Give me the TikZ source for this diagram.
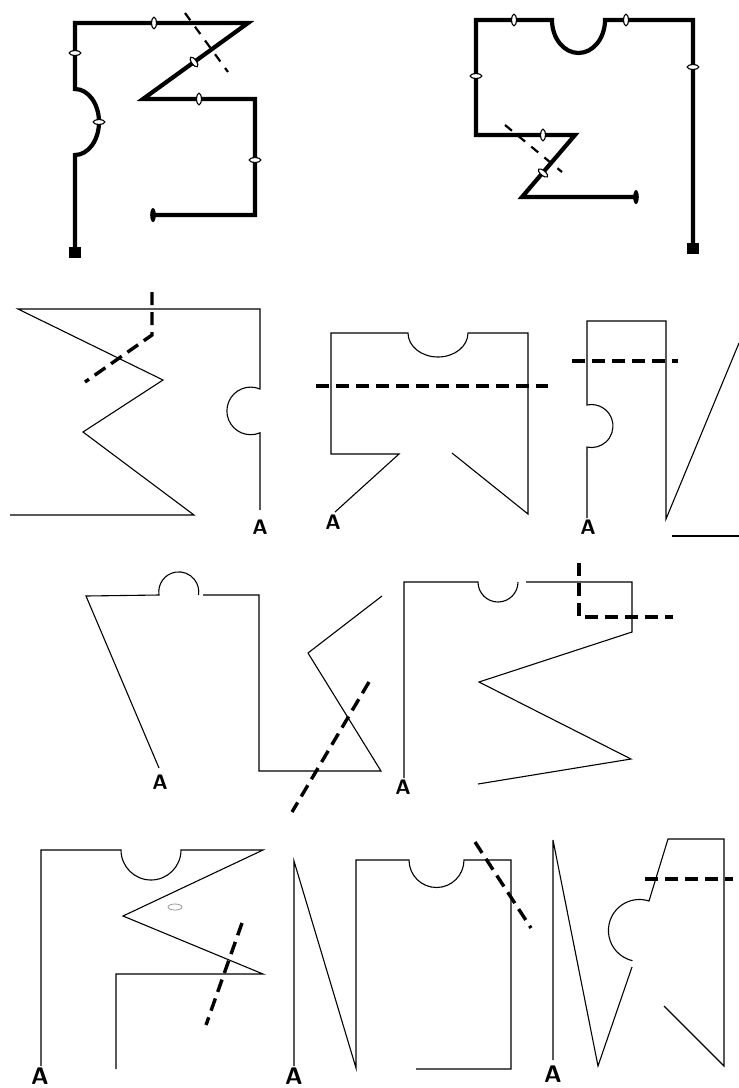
\documentclass[tikz,border=0pt]{standalone}
\usepackage{tikz}
\usetikzlibrary{calc}
\newcommand{\bead}[2]{\draw[bead,rotate around={#2:(#1)}] (#1) ellipse [x radius=2.4, y radius=5.8];}
\newcommand{\tipbead}[1]{\fill (#1) ellipse [x radius=2.8, y radius=7];}

\begin{document}
\begin{tikzpicture}[x=1pt,y=-1pt,
    wire/.style={line width=4.2pt,line join=miter},
    outline/.style={line width=1.1pt},
    cutline/.style={line width=3.4pt,dash pattern=on 13pt off 7pt},
    thincutline/.style={line width=2.2pt,dash pattern=on 9pt off 8pt},
    bead/.style={draw=black,fill=white,line width=1.1pt},
    plug/.style={fill=black},
    albl/.style={font=\fontsize{21}{21}\selectfont\sffamily\bfseries,inner sep=0pt},
    albig/.style={font=\fontsize{24}{24}\selectfont\sffamily\bfseries,inner sep=0pt}]
    \fill[white] (0,0) rectangle (739,1088);
    \useasboundingbox (0,0) rectangle (739,1088);

    \draw[wire] (75,250) -- (75,155) arc[start angle=90, end angle=-90, x radius=24, y radius=33]
        -- (75,23) -- (248,23) -- (143,99) -- (255,99) -- (255,215) -- (153,215);
    \draw[thincutline] (185,13) -- (228,72);
    \bead{154,23}{0} \bead{75,53}{90} \bead{99,122}{90} \bead{194,62}{36} \bead{199,99}{0} \bead{255,160}{90}
    \tipbead{153,215}
    \fill[plug] (69,247) rectangle (81,258);

    \draw[wire] (693,246) -- (693,20) -- (605,20) arc[start angle=0, end angle=180, x radius=26.5, y radius=33]
        -- (476,20) -- (476,135) -- (575,135) -- (522,197) -- (636,197);
    \draw[thincutline] (505,125) -- (562,172);
    \bead{514,20}{0} \bead{626,20}{0} \bead{693,67}{90} \bead{476,76}{90} \bead{543,135}{0} \bead{543,173}{50}
    \tipbead{636,197}
    \fill[plug] (687,243) rectangle (699,254);

    \draw[outline] (10,515) -- (194,515) -- (83,432) -- (163,380) -- (18,309) -- (260,309)
        -- (260,389) arc[start angle=-67, end angle=-293, radius=23.8] -- (260,510);
    \draw[cutline] (152,292) -- (152,335) -- (85,382);
    \node[albl] (a3) at (260,527) {A};

    \draw[outline] (335,512) -- (399,454) -- (331,454) -- (331,333) -- (408,333)
        arc[start angle=180, end angle=0, x radius=30, y radius=24] -- (528,333) -- (528,514) -- (452,453);
    \draw[cutline] (316,386) -- (548,386);
    \node[albl] (a4) at (333,522) {A};

    \draw[outline] (739,343) -- (666,519) -- (666,321) -- (587,321) -- (587,405)
        arc[start angle=-102, end angle=102, radius=21.5] -- (587,518);
    \draw[outline] (672,536) -- (739,536);
    \draw[cutline] (572,361) -- (678,361);
    \node[albl] (a5) at (588,527) {A};

    \draw[outline] (159,768) -- (86,596) -- (159,595) arc[start angle=171, end angle=369, radius=20];
    \draw[outline] (203,595) -- (259,595) -- (259,771) -- (381,771) -- (308,653) -- (382,596);
    \draw[cutline] (369,682) -- (292,812);
    \node[albl] (a6) at (160,782) {A};

    \draw[outline] (404,778) -- (404,582) -- (478,582) arc[start angle=180, end angle=0, radius=20];
    \draw[outline] (526,582) -- (632,582) -- (632,632) -- (479,682) -- (631,759) -- (478,784);
    \draw[cutline] (579,563) -- (579,617) -- (673,617);
    \node[albl] (a7) at (403,787) {A};

    \draw[outline] (41,1066) -- (41,850) -- (121,850) arc[start angle=180, end angle=0, radius=30]
        -- (263,850) -- (123,916) -- (263,974) -- (116,974) -- (116,1069);
    \draw[cutline] (242,923) -- (206,1025);
    \draw[gray!80,line width=0.8pt] (175,907) ellipse [x radius=7, y radius=3];
    \node[albig] (a8) at (40,1076) {A};

    \draw[outline] (294,1066) -- (294,861) -- (356,1068) -- (356,860) -- (409,860)
        arc[start angle=180, end angle=0, radius=27.5] -- (511,860) -- (511,1069) -- (416,1069);
    \draw[cutline] (475,842) -- (531,928);
    \node[albig] (a9) at (294,1076) {A};

    \draw[outline] (553,1060) -- (553,840) -- (598,1066) -- (632,967);
    \draw[outline] (664,1006) -- (724,1066) -- (724,839) -- (668,839) -- (649,901)
        arc[start angle=-72, end angle=-257, radius=31];
    \draw[cutline] (645,879) -- (733,879);
    \node[albig] (a10) at (553,1074) {A};
\end{tikzpicture}
\end{document}
